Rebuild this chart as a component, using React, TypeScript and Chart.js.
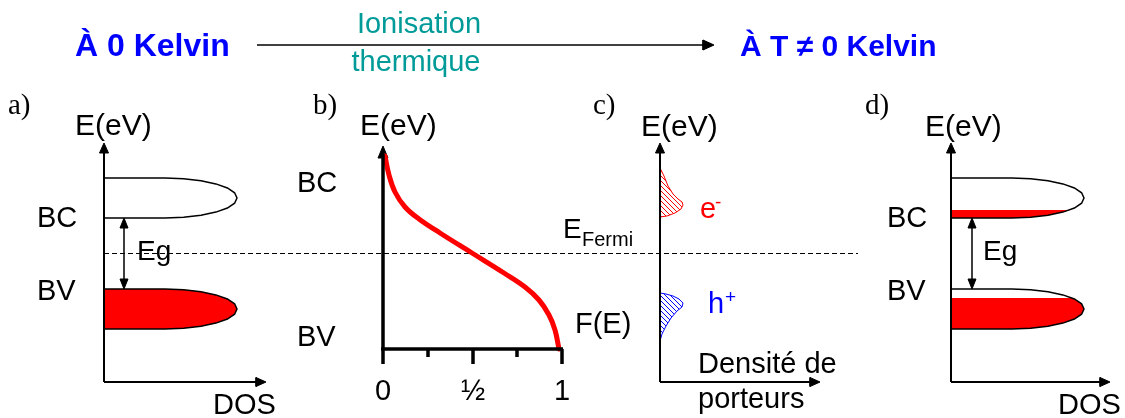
import React, { useEffect, useRef } from "react";
import { Chart, registerables } from "chart.js";
Chart.register(...registerables);

const W = 1125;
const H = 418;
const BLUE = "#0000ff";
const TEAL = "#009b99";
const RED = "#ff0000";
const BLACK = "#000000";

// ---------- diagram data (diagram units = reference pixels) ----------
// rounded band outline (panel a, conduction band)
const BAND_X = [104, 165, 183.6, 201, 215.9, 227.4, 234.6, 237, 234.6, 227.4, 215.9, 201, 183.6, 165, 104, 104];
const BAND_Y = [178, 178, 178.7, 180.7, 183.9, 188, 192.8, 198, 203.2, 208, 212.1, 215.3, 217.3, 218, 218, 178];
const BV_SHIFT = 111; // valence band below the conduction band
const PANEL_D_SHIFT = 847; // panel d repeats panel a to the right

// occupied part of the conduction band at T != 0 (panel d)
const BC_FILL_X = [951, 1069.6, 1062.9, 1048, 1030.6, 1012, 951];
const BC_FILL_Y = [210, 210, 212.1, 215.3, 217.3, 218, 218];
// occupied part of the valence band at T != 0 (panel d)
const BV_FILL_X = [951, 1072.1, 1074.4, 1081.6, 1084, 1081.6, 1074.4, 1062.9, 1048, 1030.6, 1012, 951];
const BV_FILL_Y = [298, 298, 299, 303.8, 309, 314.2, 319, 323.1, 326.3, 328.3, 329, 329];

// Fermi-Dirac curve (panel b)
const FERMI_X = [385, 389, 395, 405, 419, 440, 472, 504, 525, 539, 549, 555, 559];
const FERMI_Y = [156, 175, 192, 207, 219, 233, 253, 273, 287, 300, 315, 330, 349];

// carrier densities (panel c)
const ELEC_X = [660, 664, 668, 673, 678, 682, 683, 681, 675, 667, 660];
const ELEC_Y = [168, 176, 186, 194, 199, 202, 205, 209, 213, 216, 217];
const HOLE_X = [660, 666, 673, 679, 683, 682, 677, 671, 666, 662, 660];
const HOLE_Y = [293, 294, 296, 299, 303, 307, 311, 318, 326, 334, 341];

// axes of panels a, c, d
const AXIS_ORIGIN_X = [104, 660, 951];
const AXIS_END_X = [266, 820, 1110];
const AXIS_ORIGIN_Y = 382;
const AXIS_TOP_Y = 143;

// panel b axes
const B_AXIS_X = 383;
const B_AXIS_Y = 349;
const B_AXIS_TOP = 146;
const B_AXIS_END = 563;
const B_TICK_X = [383, 428, 473, 517, 562];
const B_TICK_LONG = [true, false, true, false, true];
const B_TICK_LABELS = ["0", "", "½", "", "1"];

// Fermi level
const FERMI_LEVEL_Y = 253.5;
const FERMI_LEVEL_X = [104, 858];

// gap arrows
const EG_X = [124, 972];
const EG_Y = [218, 289];

// title arrow
const TITLE_ARROW_X = [257, 714];
const TITLE_ARROW_Y = 45;

type Lbl = { t: string; x: number; y: number; size: number; color?: string; bold?: boolean; serif?: boolean; align?: CanvasTextAlign };
const LABELS: Lbl[] = [
  { t: "À 0 Kelvin", x: 75, y: 56, size: 32, color: BLUE, bold: true },
  { t: "Ionisation", x: 419, y: 33, size: 29, color: TEAL, align: "center" },
  { t: "thermique", x: 416, y: 71, size: 29, color: TEAL, align: "center" },
  { t: "À T ≠ 0 Kelvin", x: 740, y: 56, size: 30, color: BLUE, bold: true },
  { t: "a)", x: 8, y: 114, size: 29, serif: true },
  { t: "b)", x: 313, y: 114, size: 29, serif: true },
  { t: "c)", x: 593, y: 114, size: 29, serif: true },
  { t: "d)", x: 865, y: 114, size: 29, serif: true },
  { t: "E(eV)", x: 75, y: 135, size: 30 },
  { t: "E(eV)", x: 360, y: 135, size: 30 },
  { t: "E(eV)", x: 641, y: 136, size: 30 },
  { t: "E(eV)", x: 925, y: 136, size: 30 },
  { t: "BC", x: 37, y: 227, size: 29 },
  { t: "BV", x: 37, y: 300, size: 29 },
  { t: "Eg", x: 137, y: 260, size: 28 },
  { t: "DOS", x: 213, y: 414, size: 29 },
  { t: "BC", x: 297, y: 192, size: 29 },
  { t: "BV", x: 297, y: 346, size: 29 },
  { t: "F(E)", x: 575, y: 333, size: 29 },
  { t: "E", x: 563, y: 238, size: 28 },
  { t: "Fermi", x: 582, y: 246, size: 20 },
  { t: "e", x: 700, y: 218, size: 29, color: RED },
  { t: "-", x: 715, y: 208, size: 19, color: RED },
  { t: "h", x: 708, y: 313, size: 29, color: BLUE },
  { t: "+", x: 725, y: 303, size: 19, color: BLUE },
  { t: "Densité de", x: 698, y: 373, size: 29 },
  { t: "porteurs", x: 698, y: 408, size: 29 },
  { t: "BC", x: 887, y: 227, size: 29 },
  { t: "BV", x: 887, y: 300, size: 29 },
  { t: "Eg", x: 983, y: 260, size: 28 },
  { t: "DOS", x: 1058, y: 414, size: 29 },
];

const zip = (xs: number[], ys: number[], dx = 0, dy = 0) => xs.map((x, i) => ({ x: x + dx, y: ys[i] + dy }));

function hatch(color: string): CanvasPattern | string {
  const c = document.createElement("canvas");
  c.width = 5;
  c.height = 5;
  const g = c.getContext("2d");
  if (!g) return color;
  g.strokeStyle = color;
  g.lineWidth = 1;
  g.beginPath();
  g.moveTo(-1, -1);
  g.lineTo(6, 6);
  g.moveTo(-1, 4);
  g.lineTo(1, 6);
  g.moveTo(4, -1);
  g.lineTo(6, 1);
  g.stroke();
  return g.createPattern(c, "repeat") || color;
}

export default function App() {
  const ref = useRef<HTMLCanvasElement | null>(null);

  useEffect(() => {
    const canvas = ref.current;
    if (!canvas) return;

    const ds: any[] = [];
    let ord = 0;
    const add = (data: { x: number; y: number }[], o: any) => {
      ds.push({
        data,
        showLine: true,
        pointRadius: 0,
        pointHoverRadius: 0,
        tension: 0,
        borderColor: BLACK,
        borderWidth: 1.5,
        fill: false,
        order: 100 - ord++,
        ...o,
      });
    };
    const tri = (pts: number[][], color = BLACK) =>
      add(
        pts.map((p) => ({ x: p[0], y: p[1] })),
        { fill: "shape", backgroundColor: color, borderColor: color, borderWidth: 1 }
      );

    // Fermi level dashed line
    add(zip(FERMI_LEVEL_X, [FERMI_LEVEL_Y, FERMI_LEVEL_Y]), { borderDash: [5, 3], borderWidth: 1 });

    // panel a bands
    add(zip(BAND_X, BAND_Y), { fill: "shape", backgroundColor: "#ffffff" });
    add(zip(BAND_X, BAND_Y, 0, BV_SHIFT), { fill: "shape", backgroundColor: RED });

    // panel d bands
    add(zip(BAND_X, BAND_Y, PANEL_D_SHIFT, 0), { fill: "shape", backgroundColor: "#ffffff", borderWidth: 0 });
    add(zip(BAND_X, BAND_Y, PANEL_D_SHIFT, BV_SHIFT), { fill: "shape", backgroundColor: "#ffffff", borderWidth: 0 });
    add(zip(BC_FILL_X, BC_FILL_Y), { fill: "shape", backgroundColor: RED, borderWidth: 0 });
    add(zip(BV_FILL_X, BV_FILL_Y), { fill: "shape", backgroundColor: RED, borderWidth: 0 });
    add(zip(BAND_X, BAND_Y, PANEL_D_SHIFT, 0), {});
    add(zip(BAND_X, BAND_Y, PANEL_D_SHIFT, BV_SHIFT), {});

    // panel c carriers
    add(zip(ELEC_X, ELEC_Y), { fill: "shape", backgroundColor: hatch(RED), borderColor: RED, borderWidth: 1 });
    add(zip(HOLE_X, HOLE_Y), { fill: "shape", backgroundColor: hatch(BLUE), borderColor: BLUE, borderWidth: 1 });

    // axes a, c, d
    AXIS_ORIGIN_X.forEach((ox, i) => {
      add(zip([ox, ox], [AXIS_ORIGIN_Y, AXIS_TOP_Y + 8]), { borderWidth: 2 });
      add(zip([ox, AXIS_END_X[i] - 8], [AXIS_ORIGIN_Y, AXIS_ORIGIN_Y]), { borderWidth: 2 });
      tri([[ox, AXIS_TOP_Y], [ox - 4.5, AXIS_TOP_Y + 10], [ox + 4.5, AXIS_TOP_Y + 10], [ox, AXIS_TOP_Y]]);
      const ex = AXIS_END_X[i];
      tri([[ex, AXIS_ORIGIN_Y], [ex - 10, AXIS_ORIGIN_Y - 4.5], [ex - 10, AXIS_ORIGIN_Y + 4.5], [ex, AXIS_ORIGIN_Y]]);
    });

    // gap arrows
    EG_X.forEach((ex) => {
      add(zip([ex, ex], [EG_Y[0] + 6, EG_Y[1] - 6]), { borderWidth: 1.5 });
      tri([[ex, EG_Y[0]], [ex - 4, EG_Y[0] + 10], [ex + 4, EG_Y[0] + 10], [ex, EG_Y[0]]]);
      tri([[ex, EG_Y[1]], [ex - 4, EG_Y[1] - 10], [ex + 4, EG_Y[1] - 10], [ex, EG_Y[1]]]);
    });

    // title arrow
    add(zip([TITLE_ARROW_X[0], TITLE_ARROW_X[1] - 6], [TITLE_ARROW_Y, TITLE_ARROW_Y]), { borderWidth: 1.5 });
    tri([
      [TITLE_ARROW_X[1], TITLE_ARROW_Y],
      [TITLE_ARROW_X[1] - 11, TITLE_ARROW_Y - 5],
      [TITLE_ARROW_X[1] - 11, TITLE_ARROW_Y + 5],
      [TITLE_ARROW_X[1], TITLE_ARROW_Y],
    ]);

    // panel b: curve, axes, ticks
    add(zip(FERMI_X, FERMI_Y), { borderColor: RED, borderWidth: 5, tension: 0.4, borderCapStyle: "round", order: 1 });
    add(zip([B_AXIS_X, B_AXIS_X], [B_AXIS_Y, B_AXIS_TOP + 8]), { borderWidth: 3.5, order: 0 });
    add(zip([B_AXIS_X - 2, B_AXIS_END], [B_AXIS_Y, B_AXIS_Y]), { borderWidth: 3.5, order: 0 });
    tri([[B_AXIS_X, B_AXIS_TOP], [B_AXIS_X - 5, B_AXIS_TOP + 12], [B_AXIS_X + 5, B_AXIS_TOP + 12], [B_AXIS_X, B_AXIS_TOP]]);
    B_TICK_X.forEach((tx, i) => {
      add(zip([tx, tx], [B_AXIS_Y, B_AXIS_Y + (B_TICK_LONG[i] ? 15 : 8)]), { borderWidth: 3.5, order: 0 });
    });

    const textPlugin = {
      id: "texts",
      afterDatasetsDraw(chart: any) {
        const { ctx, scales } = chart;
        const xs = scales.x;
        const ys = scales.y;
        ctx.save();
        ctx.textBaseline = "alphabetic";
        const all = [
          ...LABELS,
          ...B_TICK_X.map((tx, i) => ({ t: B_TICK_LABELS[i], x: tx, y: 400, size: 29, align: "center" as CanvasTextAlign })),
        ];
        all.forEach((l: Lbl) => {
          if (!l.t) return;
          const fam = l.serif ? "'Liberation Serif', 'Times New Roman', serif" : "'Liberation Sans', Arial, sans-serif";
          ctx.font = `${l.bold ? "bold " : ""}${l.size}px ${fam}`;
          ctx.fillStyle = l.color || BLACK;
          ctx.textAlign = l.align || "left";
          ctx.fillText(l.t, xs.getPixelForValue(l.x), ys.getPixelForValue(l.y));
        });
        ctx.restore();
      },
    };

    const chart = new Chart(canvas, {
      type: "scatter",
      data: { datasets: ds },
      options: {
        animation: false,
        responsive: false,
        maintainAspectRatio: false,
        events: [],
        layout: { padding: 0 },
        plugins: { legend: { display: false }, tooltip: { enabled: false } },
        scales: {
          x: { type: "linear", min: 0, max: W, display: false },
          y: { type: "linear", min: 0, max: H, reverse: true, display: false },
        },
      },
      plugins: [textPlugin],
    });
    return () => chart.destroy();
  }, []);

  return (
    <div style={{ position: "fixed", left: 0, top: 0, width: W, height: H, background: "#ffffff" }}>
      <canvas ref={ref} width={W} height={H} style={{ display: "block", width: W, height: H }} />
    </div>
  );
}
